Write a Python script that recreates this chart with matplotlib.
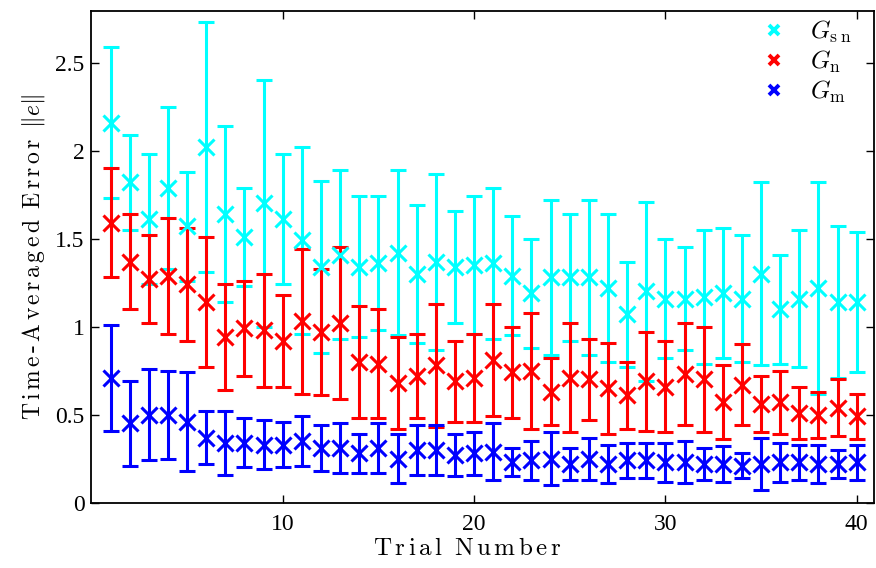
import numpy as np
import matplotlib
matplotlib.use("Agg")
import matplotlib.pyplot as plt
from matplotlib.lines import Line2D

plt.rcParams["mathtext.fontset"] = "cm"
plt.rcParams["font.family"] = ["Liberation Serif", "DejaVu Serif"]

trials = list(range(1, 41))

gsn_mean = [2.16, 1.82, 1.61, 1.79, 1.57, 2.02, 1.64, 1.51, 1.70, 1.61,
            1.49, 1.34, 1.41, 1.34, 1.36, 1.42, 1.30, 1.37, 1.34, 1.35,
            1.36, 1.29, 1.19, 1.28, 1.28, 1.28, 1.22, 1.07, 1.20, 1.16,
            1.16, 1.17, 1.19, 1.16, 1.30, 1.10, 1.16, 1.22, 1.14, 1.14]
gsn_err = [0.43, 0.27, 0.37, 0.46, 0.31, 0.71, 0.50, 0.28, 0.70, 0.37,
           0.53, 0.49, 0.48, 0.40, 0.38, 0.47, 0.39, 0.50, 0.32, 0.39,
           0.43, 0.34, 0.31, 0.44, 0.36, 0.44, 0.42, 0.30, 0.51, 0.34,
           0.29, 0.38, 0.37, 0.36, 0.52, 0.31, 0.39, 0.60, 0.43, 0.40]

gn_mean = [1.59, 1.37, 1.27, 1.29, 1.24, 1.14, 0.94, 0.99, 0.98, 0.92,
           1.03, 0.97, 1.02, 0.80, 0.79, 0.68, 0.72, 0.78, 0.69, 0.71,
           0.81, 0.74, 0.75, 0.63, 0.71, 0.70, 0.65, 0.61, 0.69, 0.66,
           0.73, 0.70, 0.57, 0.67, 0.56, 0.57, 0.51, 0.50, 0.54, 0.49]
gn_err = [0.31, 0.27, 0.25, 0.33, 0.32, 0.37, 0.30, 0.27, 0.32, 0.26,
          0.41, 0.36, 0.43, 0.32, 0.31, 0.26, 0.24, 0.35, 0.23, 0.25,
          0.32, 0.26, 0.33, 0.19, 0.31, 0.23, 0.26, 0.19, 0.28, 0.26,
          0.29, 0.30, 0.21, 0.23, 0.16, 0.18, 0.15, 0.13, 0.16, 0.13]

gm_mean = [0.71, 0.45, 0.50, 0.50, 0.46, 0.37, 0.34, 0.34, 0.33, 0.33,
           0.35, 0.31, 0.31, 0.28, 0.31, 0.25, 0.30, 0.30, 0.27, 0.28,
           0.29, 0.23, 0.24, 0.25, 0.22, 0.25, 0.22, 0.24, 0.24, 0.23,
           0.23, 0.22, 0.22, 0.21, 0.22, 0.23, 0.23, 0.22, 0.22, 0.23]
gm_err = [0.30, 0.24, 0.26, 0.25, 0.28, 0.15, 0.18, 0.14, 0.14, 0.13,
          0.14, 0.13, 0.14, 0.11, 0.14, 0.14, 0.14, 0.14, 0.12, 0.12,
          0.16, 0.08, 0.11, 0.15, 0.09, 0.12, 0.11, 0.10, 0.10, 0.11,
          0.12, 0.09, 0.10, 0.07, 0.15, 0.11, 0.10, 0.11, 0.08, 0.10]

series = [
    (gsn_mean, gsn_err, "#00FFFF", r"$G_{\rm s\;n}$"),
    (gn_mean, gn_err, "#FF0000", r"$G_{\rm n}$"),
    (gm_mean, gm_err, "#0000FF", r"$G_{\rm m}$"),
]


def spaced(text):
    """Letter-spaced roman mathtext string."""
    words = []
    for w in text.split(" "):
        chars = [r"\text{-}" if c == "-" else c for c in w]
        words.append(r"\,".join(chars))
    return r"\mathrm{" + r"\;\;".join(words) + "}"


fig = plt.figure(figsize=(8.76, 5.68), dpi=100)
ax = fig.add_axes([0.1043, 0.115, 0.8934, 0.866])

handles = []
for mean, err, color, label in series:
    ax.errorbar(trials, mean, yerr=err, fmt="x", color=color, ms=11, mew=2.2,
                elinewidth=2.2, capsize=5.5, capthick=2.2)
    handles.append(Line2D([], [], ls="none", marker="x", color=color,
                          ms=7, mew=2.8, label=label))

ax.set_xlim(0, 40.9)
ax.set_ylim(0, 2.795)
ax.set_xticks([10, 20, 30, 40])
ax.set_yticks([0, 0.5, 1, 1.5, 2, 2.5])
ax.set_yticklabels(["0", "0.5", "1", "1.5", "2", "2.5"])
ax.tick_params(direction="in", length=6, width=1.0, top=True, right=True,
               labelsize=17)
ax.tick_params(axis="x", pad=8)
ax.tick_params(axis="y", pad=5)
for sp in ax.spines.values():
    sp.set_linewidth(1.3)

ax.set_xlabel("$" + spaced("Trial Number") + "$", fontsize=18)
ax.xaxis.set_label_coords(0.48, -0.072, transform=ax.transAxes)
ax.xaxis.label.set_va("top")
ax.set_ylabel("$" + spaced("Time-Averaged Error") + r"\;\;\|e\|$",
              fontsize=17, labelpad=6)

ax.legend(handles=handles, loc="upper left", frameon=False, fontsize=18,
          handlelength=1.0, handletextpad=0.95, labelspacing=0.15,
          borderaxespad=0.0, borderpad=0.3, bbox_to_anchor=(0.847, 1.0))

fig.savefig("out.png", dpi=100)
